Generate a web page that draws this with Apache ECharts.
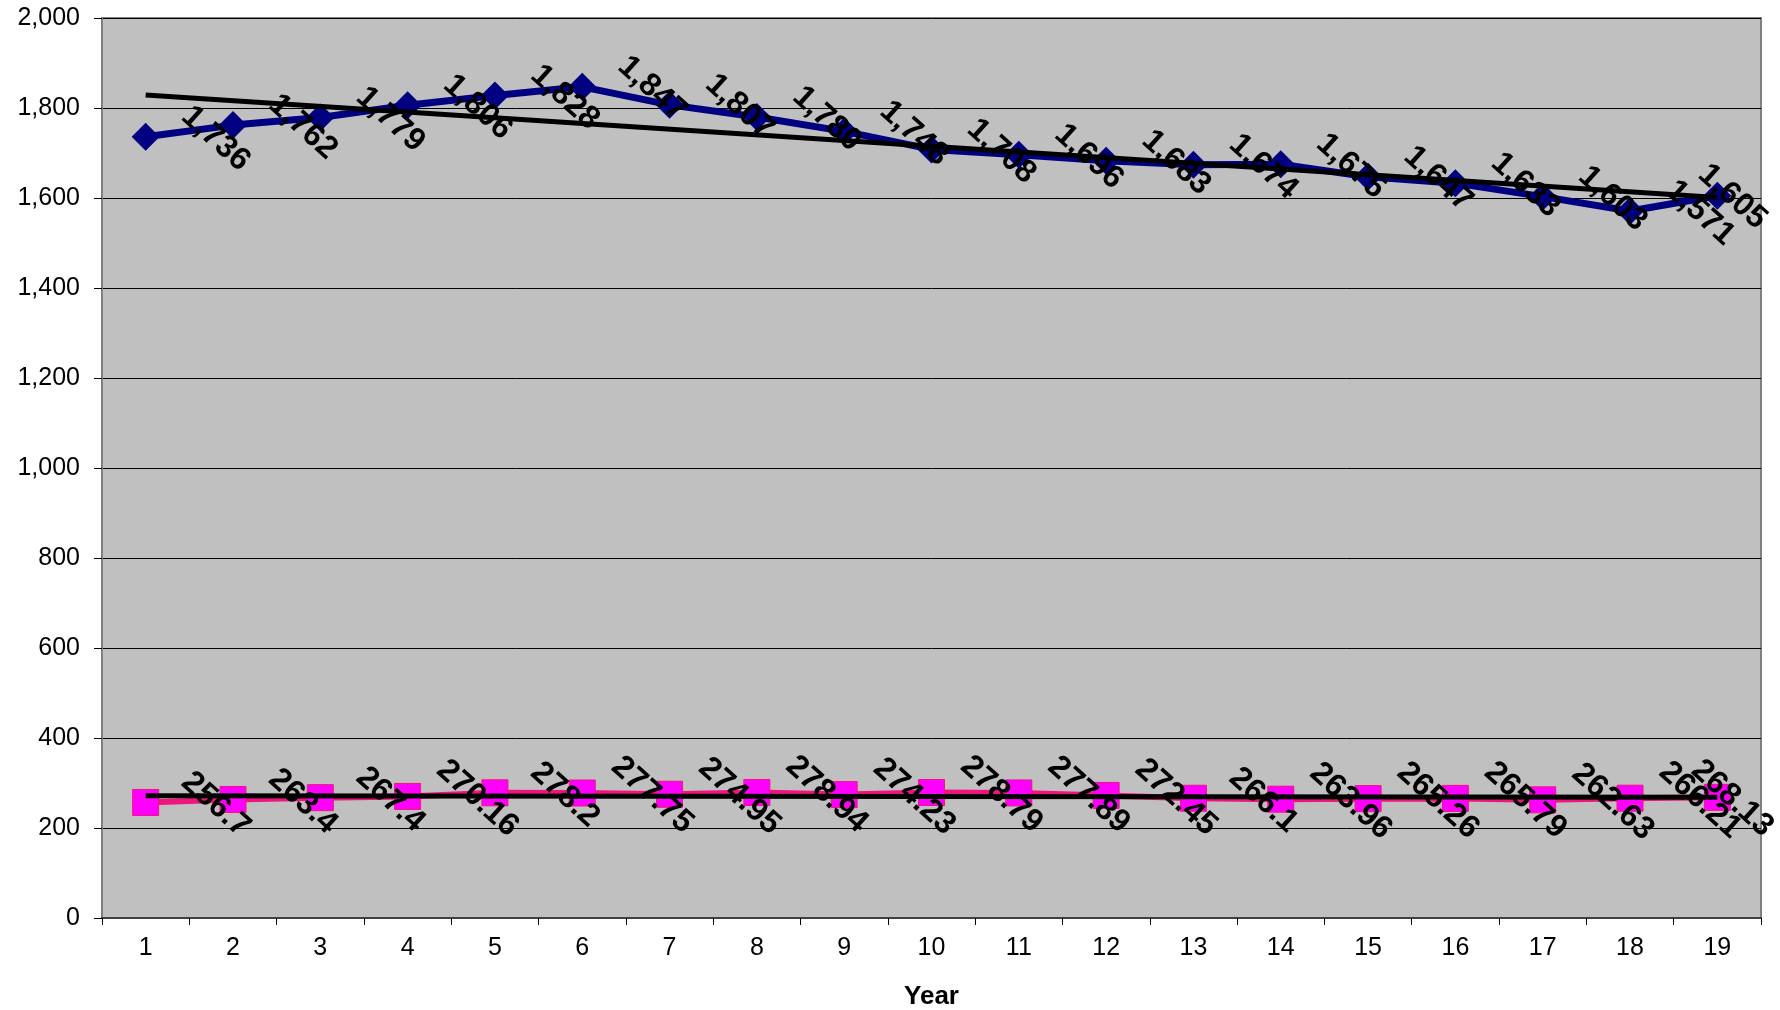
<!DOCTYPE html>
<html>
<head>
<meta charset="utf-8">
<script src="https://cdn.jsdelivr.net/npm/echarts@6/dist/echarts.min.js"></script>
<style>
html,body{margin:0;padding:0;background:#fff;}
#c{width:1780px;height:1010px;}
</style>
</head>
<body>
<div id="c"></div>
<script>
const categories = ['1','2','3','4','5','6','7','8','9','10','11','12','13','14','15','16','17','18','19'];
const blueValues = [1736,1762,1779,1806,1828,1847,1807,1780,1748,1708,1696,1683,1674,1675,1647,1633,1603,1571,1605];
const pinkValues = [256.7,263.4,267.4,270.16,278.2,277.75,274.95,278.94,274.23,278.79,277.89,272.45,266.1,263.96,265.26,265.79,262.63,266.21,268.13];
const blueTrend = [1829,1601];
const pinkTrend = [271.4,268.5];
const yTicks = [0,200,400,600,800,1000,1200,1400,1600,1800,2000];

const FONT = 'Liberation Sans, Arial, sans-serif';
const ANG = 42;
function localOffset(gx, gy) {
  const a = ANG * Math.PI / 180;
  return [gx * Math.cos(a) + gy * Math.sin(a), -gx * Math.sin(a) + gy * Math.cos(a)];
}
function buildData(vals) {
  return vals.map((v, i) => {
    const last = i === vals.length - 1;
    return { value: v, label: { offset: last ? localOffset(15, 1) : localOffset(70, 2) } };
  });
}
const labelBase = {
  show: true, position: 'inside', align: 'center', verticalAlign: 'middle',
  rotate: -ANG, color: '#000', fontFamily: FONT, fontSize: 32, fontWeight: 'bold'
};

const chart = echarts.init(document.getElementById('c'), null, {renderer: 'canvas'});
chart.setOption({
  animation: false,
  backgroundColor: '#ffffff',
  grid: {left: 102, right: 19, top: 18, bottom: 92, containLabel: false, outerBoundsMode: 'none',
    show: true, backgroundColor: '#C0C0C0', borderColor: '#808080', borderWidth: 2},
  xAxis: {
    type: 'category', data: categories, boundaryGap: true,
    name: 'Year', nameLocation: 'middle', nameGap: 66,
    nameTextStyle: {fontFamily: FONT, fontSize: 26, fontWeight: 'bold', color: '#000'},
    axisLine: {lineStyle: {color: '#404040', width: 2}},
    axisTick: {show: true, length: 7, lineStyle: {color: '#000', width: 1}},
    axisLabel: {fontFamily: FONT, fontSize: 25, color: '#000', margin: 18},
    splitLine: {show: false}
  },
  yAxis: {
    type: 'value', min: yTicks[0], max: yTicks[yTicks.length - 1], interval: yTicks[1] - yTicks[0],
    axisLine: {show: true, lineStyle: {color: '#808080', width: 2}},
    axisTick: {show: true, length: 8, lineStyle: {color: '#000', width: 1}},
    axisLabel: {fontFamily: FONT, fontSize: 25, color: '#000', margin: 22,
      formatter: v => v.toLocaleString('en-US')},
    splitLine: {show: true, lineStyle: {color: '#000', width: 1}}
  },
  series: [
    {
      type: 'line', data: buildData(blueValues), symbol: 'diamond', symbolSize: 28,
      lineStyle: {color: '#000080', width: 7}, itemStyle: {color: '#000080'},
      label: Object.assign({}, labelBase, {formatter: p => p.value.toLocaleString('en-US')}),
      z: 2
    },
    {
      type: 'line', data: buildData(pinkValues), symbol: 'rect', symbolSize: 26,
      lineStyle: {color: '#F0147E', width: 6}, itemStyle: {color: '#FF00FF', borderColor: '#F0147E', borderWidth: 1},
      label: Object.assign({}, labelBase, {formatter: p => String(p.value)}),
      z: 2
    },
    {
      type: 'line', data: [[categories[0], blueTrend[0]], [categories[categories.length - 1], blueTrend[1]]],
      symbol: 'none', lineStyle: {color: '#000', width: 5}, silent: true, z: 3
    },
    {
      type: 'line', data: [[categories[0], pinkTrend[0]], [categories[categories.length - 1], pinkTrend[1]]],
      symbol: 'none', lineStyle: {color: '#000', width: 5}, silent: true, z: 3
    }
  ]
});
</script>
</body>
</html>
